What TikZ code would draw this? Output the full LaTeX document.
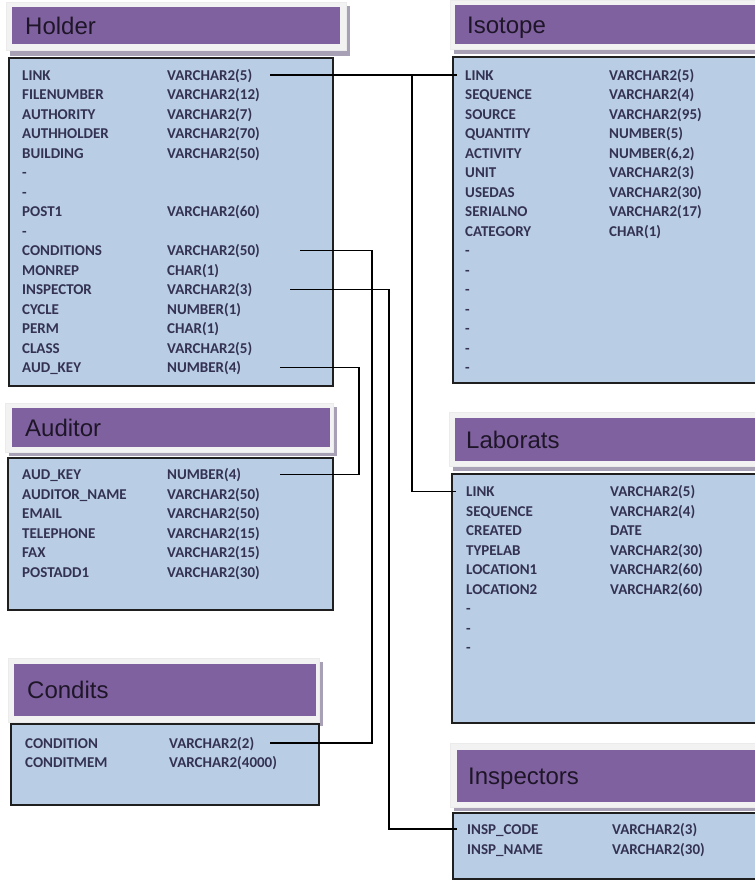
\documentclass[tikz,border=0pt]{standalone}
\usepackage{fontspec}
\setmainfont{Carlito}
\newfontfamily\titlefont{Liberation Sans}

\definecolor{hdrpurple}{RGB}{128,97,160}
\definecolor{bodyblue}{RGB}{185,205,229}
\definecolor{panelgray}{RGB}{242,242,242}
\definecolor{shadegray}{RGB}{168,160,180}
\definecolor{fieldink}{RGB}{52,50,82}
\definecolor{titleink}{RGB}{30,22,40}

\tikzset{
  panel/.style={fill=panelgray, draw=black!8, line width=0.6pt},
  shade/.style={fill=shadegray},
  hdr/.style={fill=hdrpurple},
  tbody/.style={fill=bodyblue, draw=black!88, line width=1.6pt},
  ttl/.style={anchor=west, inner sep=0pt, text height=17pt, text depth=0pt,
    font=\titlefont\fontsize{24}{24}\selectfont, text=titleink},
  fld/.style={anchor=west, inner sep=0pt, text height=10pt, text depth=0pt,
    font=\bfseries\fontsize{15}{15}\selectfont, text=fieldink},
  link/.style={draw=black, line width=1.4pt},
}

% one column row: name, field x, type x, y, field text, type text
\newcommand\erow[6]{%
  \node[fld] (#1-n) at (#2,#4) {#5};
  \node[fld] (#1-t) at (#3,#4) {#6};}
% placeholder row holding only a dash
\newcommand\edash[3]{\node[fld] (#1) at (#2,#3) {-};}

\begin{document}
\begin{tikzpicture}[x=1pt,y=-1pt]
\useasboundingbox (0,0) rectangle (755,881);
\clip (0,0) rectangle (755,881);

% ---------------- Holder ----------------
\fill[shade] (10,6) rectangle (350,56);
\path[panel] (6,2) rectangle (346,50);
\fill[hdr] (12,7) rectangle (340,44);
\node[ttl] (holder-title) at (25,25.5) {Holder};
\path[tbody] (9,58) rectangle (333,386);
\erow{h-link}{22}{167}{75}{LINK}{VARCHAR2(5)}
\erow{h-file}{22}{167}{94.5}{FILENUMBER}{VARCHAR2(12)}
\erow{h-auth}{22}{167}{114}{AUTHORITY}{VARCHAR2(7)}
\erow{h-ahol}{22}{167}{133.5}{AUTHHOLDER}{VARCHAR2(70)}
\erow{h-bldg}{22}{167}{153}{BUILDING}{VARCHAR2(50)}
\edash{h-d1}{22}{172.5}
\edash{h-d2}{22}{192}
\erow{h-post}{22}{167}{211.5}{POST1}{VARCHAR2(60)}
\edash{h-d3}{22}{231}
\erow{h-cond}{22}{167}{250.5}{CONDITIONS}{VARCHAR2(50)}
\erow{h-monr}{22}{167}{270}{MONREP}{CHAR(1)}
\erow{h-insp}{22}{167}{289.5}{INSPECTOR}{VARCHAR2(3)}
\erow{h-cycl}{22}{167}{309}{CYCLE}{NUMBER(1)}
\erow{h-perm}{22}{167}{328.5}{PERM}{CHAR(1)}
\erow{h-clas}{22}{167}{348}{CLASS}{VARCHAR2(5)}
\erow{h-aud}{22}{167}{367.5}{AUD\_KEY}{NUMBER(4)}

% ---------------- Isotope ----------------
\fill[shade] (454,4) rectangle (764,54);
\path[panel] (450,0) rectangle (760,49);
\fill[hdr] (455,5) rectangle (760,44);
\node[ttl] (isotope-title) at (467,24.5) {Isotope};
\path[tbody] (453,57) rectangle (762,383);
\erow{i-link}{465}{609}{75}{LINK}{VARCHAR2(5)}
\erow{i-seq}{465}{609}{94.5}{SEQUENCE}{VARCHAR2(4)}
\erow{i-src}{465}{609}{114}{SOURCE}{VARCHAR2(95)}
\erow{i-qty}{465}{609}{133.5}{QUANTITY}{NUMBER(5)}
\erow{i-act}{465}{609}{153}{ACTIVITY}{NUMBER(6,2)}
\erow{i-unit}{465}{609}{172.5}{UNIT}{VARCHAR2(3)}
\erow{i-used}{465}{609}{192}{USEDAS}{VARCHAR2(30)}
\erow{i-ser}{465}{609}{211.5}{SERIALNO}{VARCHAR2(17)}
\erow{i-cat}{465}{609}{231}{CATEGORY}{CHAR(1)}
\edash{i-d1}{465}{250.5}
\edash{i-d2}{465}{270}
\edash{i-d3}{465}{289.5}
\edash{i-d4}{465}{309}
\edash{i-d5}{465}{328.5}
\edash{i-d6}{465}{348}
\edash{i-d7}{465}{367.5}

% ---------------- Auditor ----------------
\fill[shade] (9,407) rectangle (337,456);
\path[panel] (5,403) rectangle (333,452);
\fill[hdr] (12,408) rectangle (330,447);
\node[ttl] (auditor-title) at (25,427.5) {Auditor};
\path[tbody] (8,458) rectangle (333,610);
\erow{a-aud}{22}{167}{474.5}{AUD\_KEY}{NUMBER(4)}
\erow{a-name}{22}{167}{494}{AUDITOR\_NAME}{VARCHAR2(50)}
\erow{a-mail}{22}{167}{513.5}{EMAIL}{VARCHAR2(50)}
\erow{a-tel}{22}{167}{533}{TELEPHONE}{VARCHAR2(15)}
\erow{a-fax}{22}{167}{552.5}{FAX}{VARCHAR2(15)}
\erow{a-post}{22}{167}{572}{POSTADD1}{VARCHAR2(30)}

% ---------------- Condits ----------------
\fill[shade] (12,662) rectangle (323,726);
\path[panel] (8,658) rectangle (319,722);
\fill[hdr] (14,664) rectangle (316,716);
\node[ttl] (condits-title) at (27,690) {Condits};
\path[tbody] (11,724) rectangle (319,805);
\erow{c-cond}{25}{169}{743}{CONDITION}{VARCHAR2(2)}
\erow{c-memo}{25}{169}{762.5}{CONDITMEM}{VARCHAR2(4000)}

% ---------------- Laborats ----------------
\fill[shade] (453,416) rectangle (764,471);
\path[panel] (449,412) rectangle (760,466);
\fill[hdr] (455,418) rectangle (760,461);
\node[ttl] (laborats-title) at (466,439.5) {Laborats};
\path[tbody] (452,474) rectangle (762,723);
\erow{l-link}{466}{610}{491.5}{LINK}{VARCHAR2(5)}
\erow{l-seq}{466}{610}{511}{SEQUENCE}{VARCHAR2(4)}
\erow{l-crt}{466}{610}{530.5}{CREATED}{DATE}
\erow{l-type}{466}{610}{550}{TYPELAB}{VARCHAR2(30)}
\erow{l-loc1}{466}{610}{569.5}{LOCATION1}{VARCHAR2(60)}
\erow{l-loc2}{466}{610}{589}{LOCATION2}{VARCHAR2(60)}
\edash{l-d1}{466}{608.5}
\edash{l-d2}{466}{628}
\edash{l-d3}{466}{647.5}

% ---------------- Inspectors ----------------
\fill[shade] (454,747) rectangle (764,811);
\path[panel] (450,743) rectangle (760,807);
\fill[hdr] (457,750) rectangle (760,802);
\node[ttl] (inspectors-title) at (468,776) {Inspectors};
\path[tbody] (453,813) rectangle (762,879);
\erow{p-code}{467}{612}{829}{INSP\_CODE}{VARCHAR2(3)}
\erow{p-name}{467}{612}{849}{INSP\_NAME}{VARCHAR2(30)}

% ---------------- relationship lines ----------------
\coordinate (hx-link) at (270,0);
\coordinate (hx-cond) at (300,0);
\coordinate (hx-insp) at (290,0);
\coordinate (hx-aud)  at (280,0);
\coordinate (ax-aud)  at (280,0);
\coordinate (cx-cond) at (270,0);
\coordinate (tr-link) at (412,0);
\coordinate (tr-aud)  at (359,0);
\coordinate (tr-cond) at (372,0);
\coordinate (tr-insp) at (389,0);

% Holder.LINK -> Isotope.LINK, branching down to Laborats.LINK
\draw[link] (hx-link |- h-link-t) -- ([xshift=-8pt]i-link-n.west);
\draw[link] (tr-link |- h-link-t) |- ([xshift=-10pt]l-link-n.west);
% Holder.CONDITIONS -> Condits.CONDITION
\draw[link] (hx-cond |- h-cond-t) -- (tr-cond |- h-cond-t)
  -- (tr-cond |- c-cond-t) -- (cx-cond |- c-cond-t);
% Holder.INSPECTOR -> Inspectors.INSP_CODE
\draw[link] (hx-insp |- h-insp-t) -- (tr-insp |- h-insp-t)
  |- ([xshift=-10pt]p-code-n.west);
% Holder.AUD_KEY -> Auditor.AUD_KEY
\draw[link] (hx-aud |- h-aud-t) -- (tr-aud |- h-aud-t)
  |- (ax-aud |- a-aud-t);
\end{tikzpicture}
\end{document}
